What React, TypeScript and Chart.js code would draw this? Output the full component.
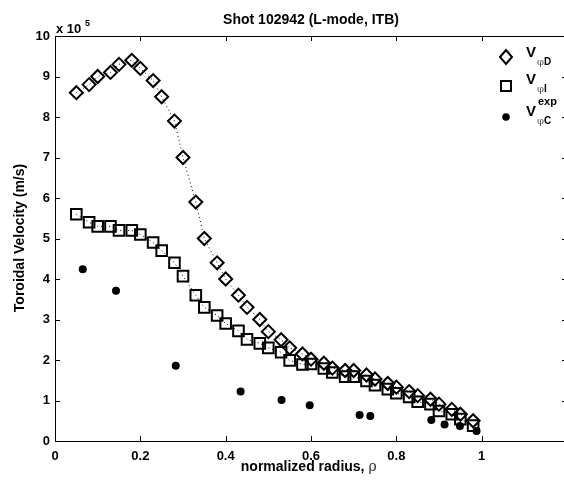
import React, { useEffect, useRef } from 'react';
import { Chart, registerables } from 'chart.js';
Chart.register(...registerables);

// normalized radius values (shared by the D and I series)
const rho = [0.05, 0.08, 0.10, 0.13, 0.15, 0.18, 0.20, 0.23, 0.25, 0.28, 0.30, 0.33, 0.35, 0.38, 0.40, 0.43, 0.45, 0.48, 0.50, 0.53, 0.55, 0.58, 0.60, 0.63, 0.65, 0.68, 0.70, 0.73, 0.75, 0.78, 0.80, 0.83, 0.85, 0.88, 0.90, 0.93, 0.95, 0.98];
// V_phi D (x 1e5 m/s)
const velD = [8.6, 8.8, 9.0, 9.1, 9.3, 9.4, 9.2, 8.9, 8.5, 7.9, 7.0, 5.9, 5.0, 4.4, 4.0, 3.6, 3.3, 3.0, 2.7, 2.5, 2.3, 2.15, 2.02, 1.92, 1.8, 1.74, 1.74, 1.63, 1.53, 1.42, 1.33, 1.22, 1.12, 1.03, 0.91, 0.78, 0.66, 0.5];
// V_phi I (x 1e5 m/s)
const velI = [5.6, 5.4, 5.3, 5.3, 5.2, 5.2, 5.1, 4.9, 4.7, 4.4, 4.07, 3.6, 3.3, 3.1, 2.9, 2.72, 2.51, 2.41, 2.3, 2.19, 1.99, 1.89, 1.9, 1.79, 1.69, 1.59, 1.59, 1.48, 1.38, 1.28, 1.18, 1.09, 0.97, 0.91, 0.74, 0.66, 0.54, 0.38];
// V_phi C experimental
const rhoC = [0.065, 0.143, 0.283, 0.435, 0.531, 0.597, 0.714, 0.739, 0.882, 0.913, 0.949, 0.988];
const velC = [4.24, 3.71, 1.86, 1.22, 1.01, 0.88, 0.64, 0.62, 0.52, 0.41, 0.37, 0.25];

const xTickStep = 0.2;
const yTickStep = 1;

const FONT = '"Liberation Sans", Arial, sans-serif';

const framePlugin = {
  id: 'frame',
  afterDraw(chart: any) {
    const ctx = chart.ctx as CanvasRenderingContext2D;
    const a = chart.chartArea;
    const xs = chart.scales.x;
    const ys = chart.scales.y;
    ctx.save();
    ctx.strokeStyle = '#000';
    ctx.lineWidth = 1;
    // box
    ctx.beginPath();
    ctx.moveTo(a.left, a.top + 0.5);
    ctx.lineTo(a.right, a.top + 0.5);
    ctx.moveTo(a.right - 0.5, a.top);
    ctx.lineTo(a.right - 0.5, a.bottom);
    ctx.stroke();
    // inward ticks
    ctx.beginPath();
    xs.ticks.forEach((t: any) => {
      const px = Math.round(xs.getPixelForValue(t.value)) + 0.5;
      ctx.moveTo(px, a.bottom);
      ctx.lineTo(px, a.bottom - 5);
      ctx.moveTo(px, a.top);
      ctx.lineTo(px, a.top + 5);
    });
    ys.ticks.forEach((t: any) => {
      const py = Math.round(ys.getPixelForValue(t.value)) + 0.5;
      ctx.moveTo(a.left, py);
      ctx.lineTo(a.left + 5, py);
      ctx.moveTo(a.right, py);
      ctx.lineTo(a.right - 5, py);
    });
    ctx.stroke();

    ctx.fillStyle = '#000';
    // title
    ctx.font = `bold 14px ${FONT}`;
    ctx.textAlign = 'center';
    ctx.textBaseline = 'alphabetic';
    ctx.fillText('Shot 102942 (L-mode, ITB)', 311, 24);

    // exponent label
    ctx.textAlign = 'left';
    ctx.font = `bold 13px ${FONT}`;
    ctx.fillText('x 10', 56, 33);
    ctx.font = `bold 9px ${FONT}`;
    ctx.fillText('5', 85, 26);

    // x axis title
    ctx.font = `bold 14px ${FONT}`;
    const t1 = 'normalized radius, ';
    const w1 = ctx.measureText(t1).width;
    ctx.font = `15px "DejaVu Serif", serif`;
    const w2 = ctx.measureText('ρ').width;
    const x0 = 309 - (w1 + w2) / 2;
    ctx.font = `bold 14px ${FONT}`;
    ctx.fillText(t1, x0, 471);
    ctx.font = `14px "DejaVu Serif", serif`;
    ctx.fillStyle = '#333';
    ctx.fillText('ρ', x0 + w1, 471);
    ctx.fillStyle = '#000';

    // y axis title
    ctx.save();
    ctx.translate(24, 238);
    ctx.rotate(-Math.PI / 2);
    ctx.textAlign = 'center';
    ctx.font = `bold 14px ${FONT}`;
    ctx.fillText('Toroidal Velocity (m/s)', 0, 0);
    ctx.restore();

    // legend
    const mx = 506;
    ctx.lineWidth = 2;
    // diamond
    ctx.beginPath();
    ctx.moveTo(mx - 6, 57);
    ctx.lineTo(mx, 50);
    ctx.lineTo(mx + 6, 57);
    ctx.lineTo(mx, 64);
    ctx.closePath();
    ctx.stroke();
    // square
    ctx.strokeRect(mx - 5, 81, 10, 10);
    // circle
    ctx.beginPath();
    ctx.arc(mx, 117, 3.8, 0, Math.PI * 2);
    ctx.fill();

    const drawLabel = (by: number, sub: string, sup?: string) => {
      ctx.font = `bold 15px ${FONT}`;
      ctx.fillStyle = '#000';
      ctx.fillText('V', 526, by);
      ctx.font = `10px "DejaVu Serif", serif`;
      ctx.fillStyle = '#555';
      ctx.fillText('φ', 537, by + 8);
      ctx.font = `bold 10px ${FONT}`;
      ctx.fillStyle = '#000';
      ctx.fillText(sub, 544, by + 8);
      if (sup) {
        ctx.font = `bold 11px ${FONT}`;
        ctx.fillText(sup, 538, by - 11);
      }
    };
    drawLabel(57, 'D');
    drawLabel(84, 'I');
    drawLabel(116, 'C', 'exp');
    ctx.restore();
  },
};

export default function App() {
  const ref = useRef<HTMLCanvasElement>(null);
  useEffect(() => {
    if (!ref.current) return;
    const tickFont = { family: FONT, weight: 'bold' as const, size: 13 };
    const chart = new Chart(ref.current, {
      type: 'scatter',
      data: {
        datasets: [
          {
            label: 'V phi D',
            data: rho.map((x, i) => ({ x, y: velD[i] })),
            showLine: true,
            borderColor: '#000',
            borderWidth: 1,
            borderDash: [1, 3],
            pointStyle: 'rectRot',
            pointRadius: 6.5,
            pointBorderWidth: 2,
            pointBorderColor: '#000',
            pointBackgroundColor: 'rgba(0,0,0,0)',
          },
          {
            label: 'V phi I',
            data: rho.map((x, i) => ({ x, y: velI[i] })),
            showLine: true,
            borderColor: '#000',
            borderWidth: 1,
            borderDash: [1, 3],
            pointStyle: 'rect',
            pointRadius: 7.5,
            pointBorderWidth: 2,
            pointBorderColor: '#000',
            pointBackgroundColor: 'rgba(0,0,0,0)',
          },
          {
            label: 'V phi C exp',
            data: rhoC.map((x, i) => ({ x, y: velC[i] })),
            showLine: false,
            pointStyle: 'circle',
            pointRadius: 4,
            pointBorderWidth: 0,
            pointBackgroundColor: '#000',
            pointBorderColor: '#000',
          },
        ],
      },
      options: {
        animation: false,
        responsive: false,
        events: [],
        layout: { padding: { left: 0, top: 36, right: 33, bottom: 0 } },
        plugins: { legend: { display: false }, tooltip: { enabled: false }, title: { display: false } },
        scales: {
          x: {
            type: 'linear',
            min: 0,
            max: 1.2,
            ticks: {
              stepSize: xTickStep,
              autoSkip: false,
              maxRotation: 0,
              color: '#000',
              font: tickFont,
              padding: 8,
              callback: (v: any) => (v > 1.01 ? '' : String(Math.round(v * 10) / 10)),
            },
            grid: { drawOnChartArea: false, drawTicks: false },
            border: { color: '#000', width: 1 },
            afterFit: (s: any) => { s.height = 44; },
          },
          y: {
            type: 'linear',
            min: 0,
            max: 10,
            ticks: {
              stepSize: yTickStep,
              autoSkip: false,
              color: '#000',
              font: tickFont,
              padding: 5,
            },
            grid: { drawOnChartArea: false, drawTicks: false },
            border: { color: '#000', width: 1 },
            afterFit: (s: any) => { s.width = 55; },
          },
        },
      },
      plugins: [framePlugin],
    } as any);
    return () => chart.destroy();
  }, []);
  return (
    <div style={{ position: 'fixed', left: 0, top: 0, width: 564, height: 485, overflow: 'hidden', background: '#fff' }}>
      <canvas ref={ref} width={600} height={485} style={{ display: 'block', width: 600, height: 485 }} />
    </div>
  );
}
